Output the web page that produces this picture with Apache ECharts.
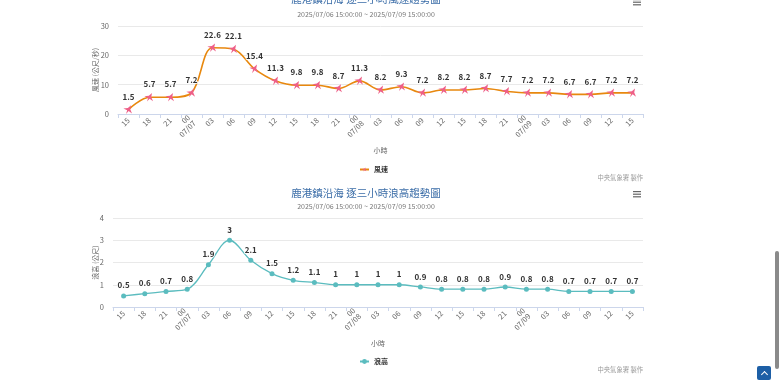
<!DOCTYPE html>
<html><head><meta charset="utf-8">
<script src="https://cdn.jsdelivr.net/npm/echarts@6/dist/echarts.min.js"></script>
<style>
html,body{margin:0;padding:0;background:#fff;overflow:hidden;}
#c{position:absolute;left:0;top:0;width:780px;height:381px;}
#sb{position:absolute;left:775px;top:251px;width:4px;height:118px;background:#8a8a8a;border-radius:2px;}
#top{position:absolute;left:757px;top:366px;width:14px;height:14px;background:#1d5fa6;border-radius:2px;}
#top:after{content:"";position:absolute;left:4.5px;top:6px;width:4px;height:4px;border-left:1.5px solid #fff;border-top:1.5px solid #fff;transform:rotate(45deg);}
</style></head>
<body><div id="c"></div><div id="sb"></div><div id="top"></div>
<script>
const categories = ['15','18','21','00\n07/07','03','06','09','12','15','18','21','00\n07/08','03','06','09','12','15','18','21','00\n07/09','03','06','09','12','15'];
const windSpeed = [1.5,5.7,5.7,7.2,22.6,22.1,15.4,11.3,9.8,9.8,8.7,11.3,8.2,9.3,7.2,8.2,8.2,8.7,7.7,7.2,7.2,6.7,6.7,7.2,7.2];
const waveHeight = [0.5,0.6,0.7,0.8,1.9,3,2.1,1.5,1.2,1.1,1,1,1,1,0.9,0.8,0.8,0.8,0.9,0.8,0.8,0.7,0.7,0.7,0.7];
const windTitle = '鹿港鎮沿海 逐三小時風速趨勢圖';
const waveTitle = '鹿港鎮沿海 逐三小時浪高趨勢圖';
const subTitle = '2025/07/06 15:00:00 ~ 2025/07/09 15:00:00';
const credit = '中央氣象署 製作';

const FONT = '"Noto Sans CJK TC", "Noto Sans", sans-serif';
const chart = echarts.init(document.getElementById('c'), null, {renderer:'canvas'});

function xAxis(gi){
  return {
    type:'category', gridIndex:gi, data:categories, boundaryGap:true,
    name:'小時', nameLocation:'middle', nameGap:33,
    nameTextStyle:{color:'#666', fontSize:7, fontFamily:FONT},
    axisLine:{lineStyle:{color:'#ccd6eb', width:1}},
    axisTick:{show:true, length:4, lineStyle:{color:'#ccd6eb'}},
    axisLabel:{rotate:45, fontSize:7.5, color:'#666', margin:5, fontFamily:FONT, interval:0, lineHeight:8},
    splitLine:{show:false}
  };
}
function yAxis(gi, max, name, gap){
  return {
    type:'value', gridIndex:gi, min:0, max:max, interval:max===30?10:1,
    name:name, nameLocation:'middle', nameGap:gap, nameRotate:90, nameMoveOverlap:false,
    nameTextStyle:{color:'#666', fontSize:7, fontFamily:FONT},
    axisLine:{show:false}, axisTick:{show:false},
    axisLabel:{fontSize:7.5, color:'#666', margin:9, fontFamily:FONT},
    splitLine:{lineStyle:{color:'#e9e9e9', width:1}}
  };
}
function hamburger(x, y){
  return [0,2.6,5.2].map(d => ({type:'rect', shape:{x:x, y:y+d, width:8, height:1.2}, style:{fill:'#666'}}));
}
function titleTexts(off, ty, t){
  return [
    {type:'text', x:366, y:ty+off, style:{text:t, fill:'#3c6ea8', font:'10.5px '+FONT, textAlign:'center', textVerticalAlign:'middle'}},
    {type:'text', x:366, y:14+off, style:{text:subTitle, fill:'#777', font:'7px '+FONT, textAlign:'center', textVerticalAlign:'middle'}},
    {type:'text', x:643, y:178+off, style:{text:credit, fill:'#999', font:'6.3px '+FONT, textAlign:'right', textVerticalAlign:'middle'}}
  ];
}
const star = 'path://M0,-10 L2.6,-2.2 L9.5,3.2 L1.6,2.4 L0,10 L-1.6,2.4 L-9.5,3.2 L-2.6,-2.2 Z';

chart.setOption({
  animation:false,
  textStyle:{fontFamily:FONT},
  grid:[
    {left:118, right:137, top:26, height:88},
    {left:113, right:137, top:218, height:89}
  ],
  xAxis:[xAxis(0), xAxis(1)],
  yAxis:[yAxis(0,30,'風速 (公尺/秒)',19), yAxis(1,4,'浪高 (公尺)',14)],
  legend:[
    {data:['風速'], left:354, top:161, itemWidth:9, itemHeight:6, itemGap:4, textStyle:{fontSize:7, color:'#333', fontWeight:'bold', fontFamily:FONT}},
    {data:['浪高'], left:354, top:353, itemWidth:9, itemHeight:6, itemGap:4, textStyle:{fontSize:7, color:'#333', fontWeight:'bold', fontFamily:FONT}}
  ],
  graphic:[].concat(titleTexts(0, -1, windTitle), titleTexts(192, 1, waveTitle), hamburger(633,-1), hamburger(633,191)),
  series:[
    {name:'風速', type:'line', xAxisIndex:0, yAxisIndex:0, data:windSpeed, smooth:0.35,
     lineStyle:{color:'#e8880e', width:1.6}, itemStyle:{color:'#ee5f87'},
     symbol:star, symbolSize:10, symbolRotate:-30,
     label:{show:true, position:'top', distance:2, fontSize:8, fontWeight:'bold', color:'#333', fontFamily:FONT, textBorderColor:'#fff', textBorderWidth:1.5}},
    {name:'浪高', type:'line', xAxisIndex:1, yAxisIndex:1, data:waveHeight, smooth:0.35,
     lineStyle:{color:'#5bbcbf', width:1.3}, itemStyle:{color:'#5bbcbf'},
     symbol:'circle', symbolSize:5,
     label:{show:true, position:'top', distance:4, fontSize:8, fontWeight:'bold', color:'#333', fontFamily:FONT, textBorderColor:'#fff', textBorderWidth:1.5}}
  ]
});
</script>
</body></html>
